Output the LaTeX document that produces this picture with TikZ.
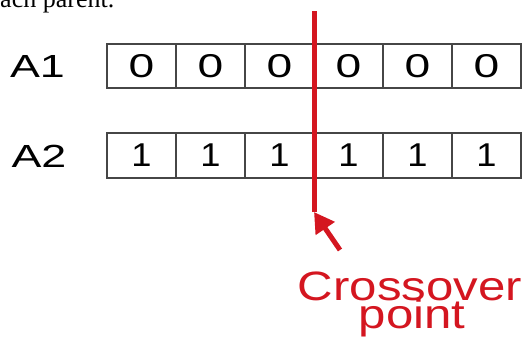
\documentclass[tikz,border=0pt]{standalone}
\usepackage{fontspec}
\setmainfont{Liberation Serif}
\newfontfamily\labfont{Liberation Sans}
\usetikzlibrary{arrows.meta}
\definecolor{xred}{RGB}{212,22,32}
\definecolor{boxgray}{RGB}{70,70,70}
\tikzset{
  cell/.style={draw=boxgray, line width=1.1pt, minimum width=69pt, minimum height=44pt, inner sep=0pt, font=\labfont\fontsize{33}{33}\selectfont},
  rowlabel/.style={inner sep=0pt, font=\labfont\fontsize{32}{32}\selectfont},
  redtext/.style={inner sep=0pt, text=xred, font=\labfont\fontsize{41}{41}\selectfont},
  crossline/.style={draw=xred, line width=5pt},
  crossarrow/.style={draw=xred, line width=5pt, -{Triangle[length=20pt,width=22pt]}}
}
\begin{document}
\begin{tikzpicture}[x=1pt,y=-1pt]
\useasboundingbox (0,0) rectangle (530,340);
\begin{scope}
\clip (0,0) rectangle (530,340);
\node[anchor=base west, inner sep=0pt, font=\fontsize{26}{26}\selectfont] (cap) at (-11.5,8) {each parent.};
\end{scope}
\node[rowlabel] (l1) at (37.5,66) {\scalebox{1.4}[1]{A1}};
\node[rowlabel] (l2) at (39,156) {\scalebox{1.4}[1]{A2}};
\foreach \i in {1,...,6}{
  \node[cell] (a1-\i) at ({141.5+69*(\i-1)},66) {\scalebox{1.4}[1]{0}};
  \node[cell, minimum height=45pt] (a2-\i) at ({141.5+69*(\i-1)},155.5) {\scalebox{1.1}[1]{1}};
}
\coordinate (ctop) at (314,11);
\coordinate (cbot) at (314,212);
\draw[crossline] (ctop) -- (cbot);
\coordinate (atail) at (340,250);
\draw[crossarrow] (atail) -- (cbot);
\node[redtext, anchor=base] (t1) at (410,300) {\scalebox{1.2}[1]{Crossover}};
\node[redtext, anchor=base] (t2) at (412,328) {\scalebox{1.2}[1]{point}};
\end{tikzpicture}
\end{document}
